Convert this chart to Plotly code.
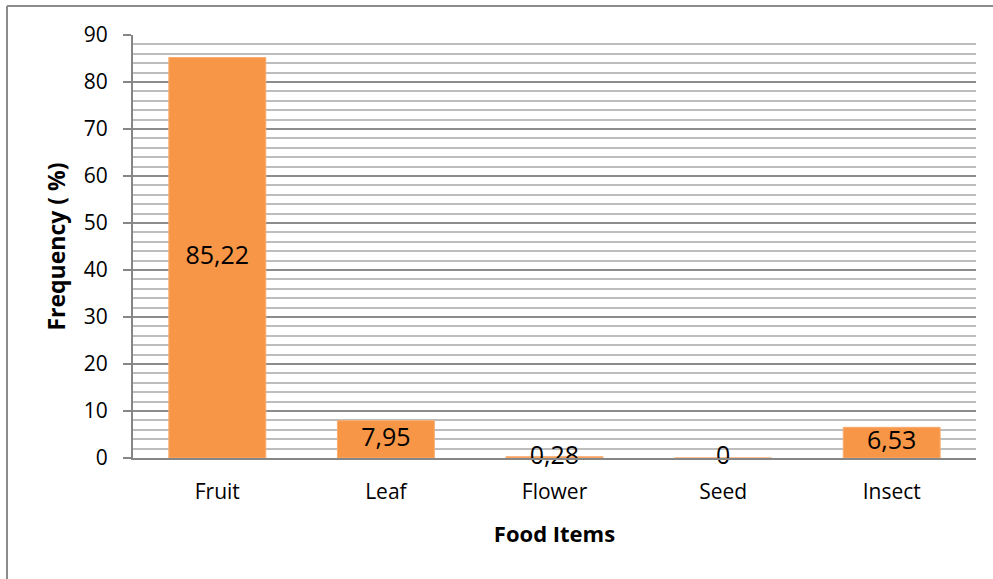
import plotly.graph_objects as go

# Diet composition data
categories = ["Fruit", "Leaf", "Flower", "Seed", "Insect"]
frequency = [85.22, 7.95, 0.28, 0, 6.53]
y_ticks = [0, 10, 20, 30, 40, 50, 60, 70, 80, 90]

BAR_COLOR = "#F79646"
FONT = "Open Sans"

labels = [f"{v:g}".replace(".", ",") for v in frequency]
label_y = [v / 2 for v in frequency]

fig = go.Figure()

fig.add_trace(go.Bar(
    x=categories,
    y=frequency,
    width=0.575,
    marker=dict(color=BAR_COLOR, line=dict(color="#F9AC72", width=1)),
    hoverinfo="x+y",
))

# value labels centred in each bar
fig.add_trace(go.Scatter(
    x=categories,
    y=label_y,
    mode="text",
    text=labels,
    textposition="middle center",
    textfont=dict(family=FONT, size=25, color="#000000"),
    cliponaxis=False,
    hoverinfo="skip",
))

# outer frame (left and top edges)
W, H = 993, 579
ml, mr, mt, mb = 133, 17, 35, 121
pw, ph = W - ml - mr, H - mt - mb


def px_x(x):
    return (x - ml) / pw


def px_y(y):
    return (H - mb - y) / ph


frame = dict(type="line", xref="paper", yref="paper",
             line=dict(color="#8C8C8C", width=2), layer="above")
fig.add_shape(**frame, x0=px_x(7), x1=px_x(7), y0=px_y(6), y1=px_y(600))
fig.add_shape(**frame, x0=px_x(7), x1=px_x(1000), y0=px_y(6), y1=px_y(6))

fig.update_layout(
    width=W, height=H,
    margin=dict(l=ml, r=mr, t=mt, b=mb),
    paper_bgcolor="#FFFFFF",
    plot_bgcolor="#FFFFFF",
    showlegend=False,
    font=dict(family=FONT, size=21, color="#000000"),
    bargap=0.425,
)

fig.update_xaxes(
    type="category",
    showline=True, linecolor="#868686", linewidth=2,
    showgrid=False,
    ticks="",
    tickfont=dict(family=FONT, size=21, color="#000000"),
    ticklabelstandoff=14,
    title=dict(text="<b>Food Items</b>", font=dict(family=FONT, size=22), standoff=22),
    range=[-0.5, 4.5],
    fixedrange=True,
)

fig.update_yaxes(
    range=[0, 90],
    tickvals=y_ticks,
    showline=True, linecolor="#868686", linewidth=2,
    ticks="outside", ticklen=8, tickcolor="#868686", tickwidth=2,
    tickfont=dict(family=FONT, size=21, color="#000000"),
    ticklabelstandoff=11,
    showgrid=True, gridcolor="#8C8C8C", gridwidth=1.5,
    minor=dict(dtick=2, showgrid=True, gridcolor="#BDBDBD", gridwidth=1.5),
    zeroline=False,
    title=dict(text="<b>Frequency ( %)</b>", font=dict(family=FONT, size=23), standoff=12),
    fixedrange=True,
)

fig.write_html("out.html")
